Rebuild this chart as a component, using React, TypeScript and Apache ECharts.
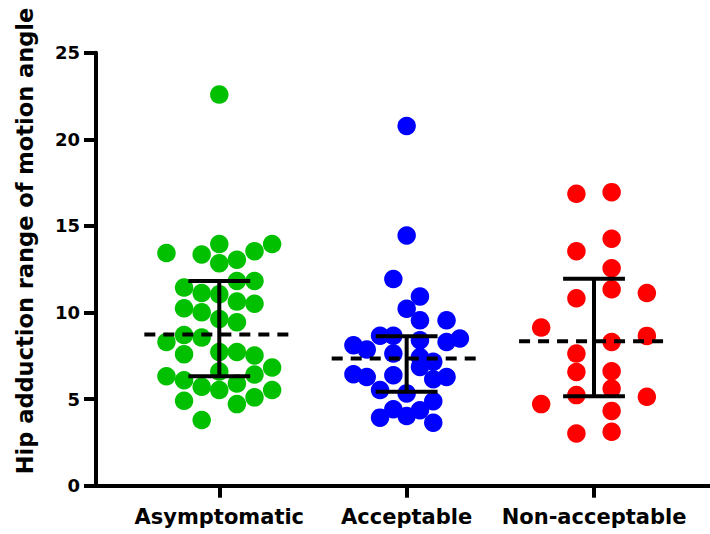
import { useEffect, useRef } from 'react';
import * as echarts from 'echarts';

const categories = ['Asymptomatic', 'Acceptable', 'Non-acceptable'];
const yTickLabels = ['0', '5', '10', '15', '20', '25'];

// Hip adduction range of motion angle, per group
const asymptomaticValues = [22.58, 13.43, 13.35, 13.95, 13.05, 12.85, 13.54, 13.95, 11.44, 11.82, 11.82, 11.12, 11.05, 10.63, 10.51, 10.24, 10.01, 9.63, 9.44, 8.3, 8.7, 8.55, 7.59, 7.72, 7.72, 7.52, 6.82, 6.32, 6.09, 6.59, 6.42, 5.71, 5.52, 5.9, 5.52, 4.9, 4.71, 5.1, 3.79];
const asymptomaticSlots = [0, -3, -1, 0, 1, 0, 2, 3, -2, 1, 2, -1, 0, 1, 2, -2, -1, 0, 1, -3, -2, -1, -2, 0, 1, 2, 3, -3, -2, 0, 2, -1, 0, 1, 3, -2, 1, 2, -1];

const acceptableValues = [20.77, 14.45, 11.93, 10.93, 10.22, 9.55, 9.55, 8.66, 8.66, 8.4, 8.3, 8.5, 8.11, 7.86, 7.63, 7.15, 6.86, 6.44, 6.27, 6.38, 6.15, 6.28, 5.52, 5.33, 4.88, 4.42, 4.36, 3.93, 4.02, 3.64, 7.42];
const acceptableSlots = [0, 0, -1, 1, 0, 1, 3, -2, -1, 1, 3, 4, -4, -3, -1, 2, 1, -4, -3, -1, 2, 3, -2, 0, 2, -1, 1, -2, 0, 2, 1];

const nonAcceptableValues = [16.85, 16.95, 14.26, 13.54, 12.56, 11.34, 10.82, 11.12, 9.13, 8.65, 8.3, 7.63, 6.57, 6.61, 5.61, 5.23, 5.13, 4.71, 4.32, 3.02, 3.11];
const nonAcceptableSlots = [-1, 1, 1, -1, 1, 1, -1, 3, -3, 3, 1, -1, -1, 1, 1, -1, 3, -3, 1, -1, 1];

// summary lines: centre (dashed), lower / upper bar
const groupCentre = [8.73, 7.34, 8.34];
const groupLower = [6.32, 5.42, 5.17];
const groupUpper = [11.82, 8.63, 11.95];

const FONT = 'DejaVu Sans';

export default function App() {
  const ref = useRef<HTMLDivElement>(null);

  useEffect(() => {
    const chart = echarts.init(ref.current as HTMLDivElement, null, { renderer: 'svg' });

    const groups = [
      { values: asymptomaticValues, slots: asymptomaticSlots, step: 0.094, color: '#00C000' },
      { values: acceptableValues, slots: acceptableSlots, step: 0.071, color: '#0000FF' },
      { values: nonAcceptableValues, slots: nonAcceptableSlots, step: 0.094, color: '#FF0000' },
    ];

    const scatterSeries = groups.map((g, gi) => ({
      type: 'scatter',
      name: categories[gi],
      symbol: 'circle',
      symbolSize: 18.5,
      itemStyle: { color: g.color, opacity: 1 },
      data: g.values.map((v, i) => [gi + 1 + g.slots[i] * g.step, v]),
      z: 2,
    }));

    const statsData = categories.map((_, i) => [i + 1, groupCentre[i], groupLower[i], groupUpper[i]]);

    const option: any = {
      animation: false,
      backgroundColor: '#ffffff',
      grid: {
        left: 96,
        right: 0,
        top: 52.7,
        bottom: 48.3,
        containLabel: false,
        outerBoundsMode: 'none',
      },
      xAxis: {
        type: 'value',
        min: 0.342,
        max: 3.619,
        axisLine: { show: true, lineStyle: { color: '#000', width: 4 } },
        axisTick: {
          show: true,
          customValues: [1, 2, 3],
          length: 12,
          lineStyle: { color: '#000', width: 4 },
        },
        axisLabel: {
          show: true,
          customValues: [1, 2, 3],
          formatter: (v: number) => categories[Math.round(v) - 1] ?? '',
          color: '#000',
          fontFamily: FONT,
          fontWeight: 'bold',
          fontSize: 21,
          margin: 21,
        },
        splitLine: { show: false },
      },
      yAxis: {
        type: 'value',
        min: 0,
        max: 25,
        interval: 5,
        axisLine: { show: true, lineStyle: { color: '#000', width: 4 } },
        axisTick: { show: true, length: 12, lineStyle: { color: '#000', width: 4 } },
        axisLabel: {
          color: '#000',
          fontFamily: FONT,
          fontWeight: 'bold',
          fontSize: 18,
          margin: 16,
          formatter: (v: number) => yTickLabels[Math.round(v / 5)] ?? String(v),
        },
        splitLine: { show: false },
      },
      graphic: [
        {
          type: 'text',
          x: 25,
          y: 241,
          rotation: Math.PI / 2,
          style: {
            text: 'Hip adduction range of motion angle',
            fill: '#000',
            font: `bold 22.5px "${FONT}"`,
            textAlign: 'center',
            textVerticalAlign: 'middle',
          },
        },
      ],
      series: [
        ...scatterSeries,
        {
          type: 'custom',
          clip: false,
          z: 5,
          data: statsData,
          renderItem: (params: any, api: any) => {
            const x = api.value(0);
            const c = api.value(1);
            const lo = api.value(2);
            const hi = api.value(3);
            const mL = api.coord([x - 0.4, c]);
            const mR = api.coord([x + 0.4, c]);
            const pLo = api.coord([x, lo]);
            const pHi = api.coord([x, hi]);
            const capL = api.coord([x - 0.165, lo])[0];
            const capR = api.coord([x + 0.165, lo])[0];
            const stroke = { stroke: '#000', lineWidth: 4, fill: 'none' };
            return {
              type: 'group',
              children: [
                { type: 'line', shape: { x1: mL[0], y1: mL[1], x2: mR[0], y2: mR[1] }, style: { ...stroke, lineDash: [11, 8] } },
                { type: 'line', shape: { x1: pLo[0], y1: pLo[1], x2: pHi[0], y2: pHi[1] }, style: stroke },
                { type: 'line', shape: { x1: capL, y1: pHi[1], x2: capR, y2: pHi[1] }, style: stroke },
                { type: 'line', shape: { x1: capL, y1: pLo[1], x2: capR, y2: pLo[1] }, style: stroke },
              ],
            };
          },
        },
      ],
    };

    chart.setOption(option);
    return () => chart.dispose();
  }, []);

  return (
    <div
      ref={ref}
      style={{ position: 'absolute', left: 0, top: 0, width: 710, height: 534, background: '#fff' }}
    />
  );
}
